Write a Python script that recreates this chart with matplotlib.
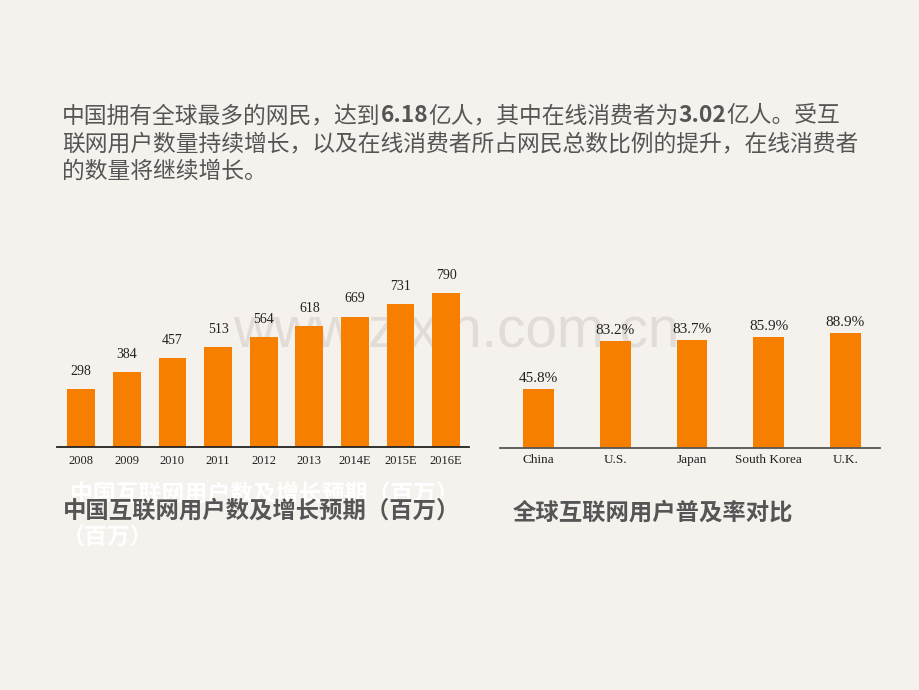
import matplotlib
matplotlib.use('Agg')
import matplotlib.pyplot as plt

# data
years = ['2008', '2009', '2010', '2011', '2012', '2013', '2014E', '2015E', '2016E']
users = [298, 384, 457, 513, 564, 618, 669, 731, 790]

countries = ['China', 'U.S.', 'Japan', 'South Korea', 'U.K.']
penetration = [45.8, 83.2, 83.7, 85.9, 88.9]

para_line1 = [('中国拥有全球最多的网民，达到', 'normal'), ('6.18', 'bold'),
              ('亿人，其中在线消费者为', 'normal'), ('3.02', 'bold'),
              ('亿人。受互', 'normal')]
para_line2 = '联网用户数量持续增长，以及在线消费者所占网民总数比例的提升，在线消费者'
para_line3 = '的数量将继续增长。'

title_left = '中国互联网用户数及增长预期（百万）'
title_right = '全球互联网用户普及率对比'

bg = '#F5F1ED'
orange = '#F77F00'
text_grey = '#555555'
cjk = ['Noto Sans CJK SC', 'DejaVu Sans']
serif = ['Liberation Serif', 'DejaVu Serif']

W, H = 920, 690
fig = plt.figure(figsize=(9.2, 6.9), dpi=100, facecolor=bg)

def px(x, y):
    return x / W, 1 - y / H

# watermark, sits behind the bars and labels
fig.text(*px(233, 347), 'www.zixin.com.cn', family=['Liberation Sans'], fontsize=40.8,
         color='#E1DCD8', ha='left', va='baseline', zorder=0.5)

# paragraph
renderer = fig.canvas.get_renderer()
x = 62
for seg, w in para_line1:
    t = fig.text(*px(x, 116), seg, family=cjk, fontsize=16.4, weight=w,
                 color=text_grey, ha='left', va='center')
    x += t.get_window_extent(renderer).width
fig.text(*px(62, 144), para_line2, family=cjk, fontsize=16.4, color=text_grey,
         ha='left', va='center')
fig.text(*px(62, 171), para_line3, family=cjk, fontsize=16.4, color=text_grey,
         ha='left', va='center')

# left chart: users
ax1 = fig.add_axes([57 / W, (H - 447) / H, (469 - 57) / W, 175.5 / H])
ax1.set_zorder(1)
ax1.patch.set_alpha(0)
pos1 = list(range(len(years)))
ax1.bar(pos1, users, width=0.61, color=orange, zorder=2)
for p, v in zip(pos1, users):
    ax1.annotate(str(v), (p, v), xytext=(0, 8), textcoords='offset points',
                 ha='center', va='bottom', family=serif, fontsize=10, color='#222222')
ax1.set_xlim(-0.53, 8.5)
ax1.set_ylim(0, 900)
ax1.set_xticks(pos1)
ax1.set_xticklabels(years, family=serif, fontsize=9, color='#222222')
ax1.tick_params(axis='x', length=0, pad=6)
ax1.set_yticks([])
for s in ['top', 'right', 'left']:
    ax1.spines[s].set_visible(False)
ax1.spines['bottom'].set_color('#222222')
ax1.spines['bottom'].set_linewidth(1.3)

# right chart: penetration
ax2 = fig.add_axes([500 / W, (H - 448) / H, (880 - 500) / W, 129 / H])
ax2.set_zorder(1)
ax2.patch.set_alpha(0)
pos2 = list(range(len(countries)))
ax2.bar(pos2, penetration, width=0.40, color=orange, zorder=2)
for p, v in zip(pos2, penetration):
    ax2.annotate('%.1f%%' % v, (p, v), xytext=(0, 3), textcoords='offset points',
                 ha='center', va='bottom', family=serif, fontsize=11, color='#222222')
ax2.set_xlim(-0.5, 4.45)
ax2.set_ylim(0, 100)
ax2.set_xticks(pos2)
ax2.set_xticklabels(countries, family=serif, fontsize=9.5, color='#222222')
ax2.tick_params(axis='x', length=0, pad=4)
ax2.set_yticks([])
for s in ['top', 'right', 'left']:
    ax2.spines[s].set_visible(False)
ax2.spines['bottom'].set_color('#555555')
ax2.spines['bottom'].set_linewidth(1.3)

# ghost white title box behind the real one
fig.text(*px(70, 495), title_left, family=cjk, fontsize=16.5, weight='bold',
         color='white', ha='left', va='center')
fig.text(*px(62, 538), '（百万）', family=cjk, fontsize=16.5, weight='bold',
         color='white', ha='left', va='center')

# chart titles
fig.text(*px(63, 511), title_left, family=cjk, fontsize=16.8, weight='bold',
         color='#555555', ha='left', va='center')
fig.text(*px(513, 513), title_right, family=cjk, fontsize=16.8, weight='bold',
         color='#555555', ha='left', va='center')

plt.savefig('out.png', dpi=100, facecolor=bg)
plt.close()
